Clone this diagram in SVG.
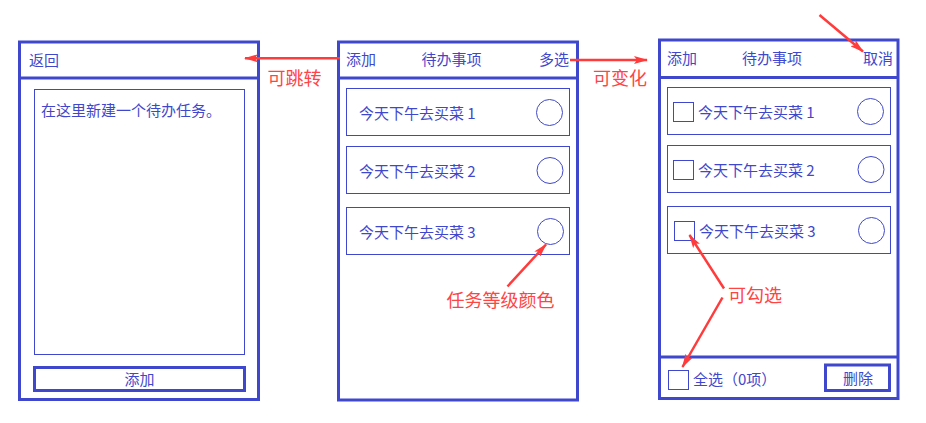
<svg xmlns="http://www.w3.org/2000/svg" width="926" height="423" viewBox="0 0 926 423">
<defs>
<style>
.frame{fill:#fff;stroke:#3F48CC;stroke-width:3}
.sep{stroke:#3F48CC;stroke-width:3}
.box{fill:none;stroke:#3F48CC;stroke-width:1}
.btn{fill:none;stroke:#3F48CC;stroke-width:3}
.t{font-family:"Noto Sans CJK SC","Microsoft YaHei",sans-serif;font-size:15px;fill:#3F48CC}
.r{font-family:"Noto Sans CJK SC","Microsoft YaHei",sans-serif;font-size:18px;fill:#FF4444}
.arr{fill:none;stroke:#FF3B3B;stroke-width:2.5}
</style>
<marker id="ah" viewBox="0 0 14 8" refX="13" refY="4" markerWidth="14" markerHeight="8" markerUnits="userSpaceOnUse" orient="auto">
<path d="M0,0 L14,4 L0,8 L3,4 Z" fill="#FF3B3B"/>
</marker>
<linearGradient id="g1" gradientUnits="userSpaceOnUse" x1="340" y1="58" x2="250" y2="58">
<stop offset="0" stop-color="#FF3B3B" stop-opacity="0.15"/>
<stop offset="0.4" stop-color="#FF3B3B" stop-opacity="0.9"/>
<stop offset="1" stop-color="#FF3B3B"/>
</linearGradient>
<linearGradient id="g2" gradientUnits="userSpaceOnUse" x1="724" y1="288" x2="690" y2="235">
<stop offset="0" stop-color="#FF3B3B" stop-opacity="0.2"/>
<stop offset="0.4" stop-color="#FF3B3B"/>
<stop offset="1" stop-color="#FF3B3B"/>
</linearGradient>
<linearGradient id="g3" gradientUnits="userSpaceOnUse" x1="723" y1="297" x2="682" y2="367">
<stop offset="0" stop-color="#FF3B3B" stop-opacity="0.2"/>
<stop offset="0.4" stop-color="#FF3B3B"/>
<stop offset="1" stop-color="#FF3B3B"/>
</linearGradient>
</defs>
<rect width="926" height="423" fill="#fff"/>

<g id="screen-add">
<rect class="frame" x="19.5" y="42" width="239" height="357.5"/>
<line class="sep" x1="19.5" y1="78" x2="258.5" y2="78"/>
<text class="t" x="29" y="66">返回</text>
<rect class="box" x="34.5" y="89.5" width="210" height="265"/>
<text class="t" x="41" y="116">在这里新建一个待办任务。</text>
<rect class="btn" x="34.5" y="367.5" width="210" height="23"/>
<text class="t" x="139.5" y="385" text-anchor="middle">添加</text>
</g>

<g id="screen-list">
<rect class="frame" x="338.5" y="42" width="239" height="358"/>
<line class="sep" x1="338.5" y1="78" x2="577.5" y2="78"/>
<text class="t" x="346" y="65">添加</text>
<text class="t" x="421.5" y="65">待办事项</text>
<text class="t" x="539" y="65">多选</text>
<g id="item1">
<rect class="box" x="346.5" y="88.5" width="223" height="47"/>
<text class="t" x="359" y="119">今天下午去买菜 1</text>
<circle class="box" cx="549.5" cy="112.5" r="13"/>
</g>
<g id="item2">
<rect class="box" x="346.5" y="146.5" width="223" height="47"/>
<text class="t" x="359" y="177">今天下午去买菜 2</text>
<circle class="box" cx="550" cy="170.5" r="13"/>
</g>
<g id="item3">
<rect class="box" x="346.5" y="207.5" width="223" height="47"/>
<text class="t" x="359" y="238">今天下午去买菜 3</text>
<circle class="box" cx="550.5" cy="231.5" r="13"/>
</g>
</g>

<g id="screen-multiselect">
<rect class="frame" x="659.5" y="40" width="238.5" height="358.5"/>
<line class="sep" x1="659.5" y1="77.5" x2="898" y2="77.5"/>
<line class="sep" x1="659.5" y1="357" x2="898" y2="357"/>
<text class="t" x="667" y="64">添加</text>
<text class="t" x="742" y="64">待办事项</text>
<text class="t" x="863" y="64">取消</text>
<g id="sitem1">
<rect class="box" x="667.5" y="87.5" width="223" height="47"/>
<rect class="box" x="673.5" y="102.5" width="20" height="19"/>
<text class="t" x="698" y="118">今天下午去买菜 1</text>
<circle class="box" cx="870.5" cy="111.5" r="13"/>
</g>
<g id="sitem2">
<rect class="box" x="667.5" y="145.5" width="223" height="47"/>
<rect class="box" x="673.5" y="160.5" width="20" height="19"/>
<text class="t" x="698" y="176">今天下午去买菜 2</text>
<circle class="box" cx="871" cy="169.5" r="13"/>
</g>
<g id="sitem3">
<rect class="box" x="667.5" y="206.5" width="223" height="47"/>
<rect class="box" x="674.5" y="221.5" width="20" height="19"/>
<text class="t" x="699" y="237">今天下午去买菜 3</text>
<circle class="box" cx="871.5" cy="230.5" r="13"/>
</g>
<rect class="box" x="668.5" y="370.5" width="20" height="19"/>
<text class="t" x="693" y="385">全选（0项）</text>
<rect class="btn" x="825.5" y="365" width="64" height="25.5"/>
<text class="t" x="858" y="384" text-anchor="middle">删除</text>
</g>

<g id="connectors">
<line class="arr" x1="340" y1="58.3" x2="245" y2="58.3" stroke="url(#g1)" marker-end="url(#ah)"/>
<line class="arr" x1="570" y1="60" x2="647" y2="60" marker-end="url(#ah)"/>
<line class="arr" x1="819.5" y1="15" x2="863" y2="51.5" marker-end="url(#ah)"/>
<line class="arr" x1="507.5" y1="286.5" x2="546" y2="244.5" marker-end="url(#ah)"/>
<line class="arr" x1="724" y1="288.5" x2="689.5" y2="235" stroke="url(#g2)" marker-end="url(#ah)"/>
<line class="arr" x1="722.5" y1="297.5" x2="682.5" y2="367" stroke="url(#g3)" marker-end="url(#ah)"/>
</g>

<g id="labels">
<text class="r" x="267.5" y="85">可跳转</text>
<text class="r" x="593" y="85">可变化</text>
<text class="r" x="446.5" y="307">任务等级颜色</text>
<text class="r" x="728" y="302">可勾选</text>
</g>
</svg>
